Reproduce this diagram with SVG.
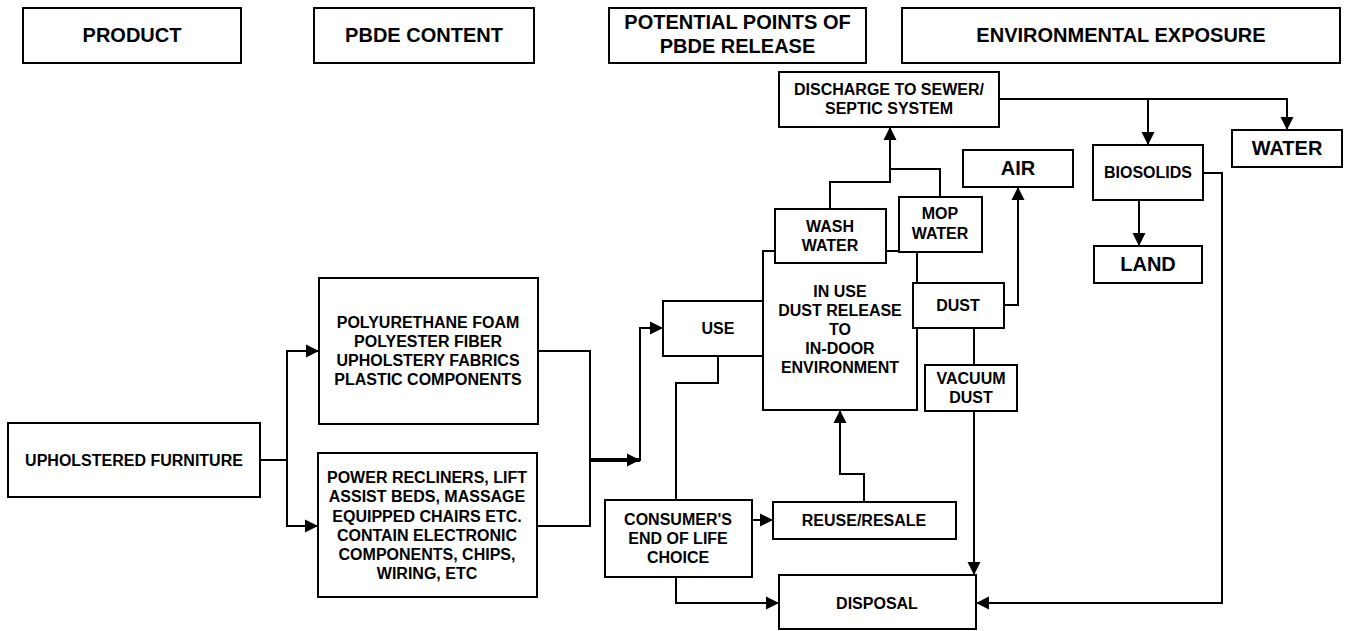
<svg xmlns="http://www.w3.org/2000/svg" width="1349" height="631" viewBox="0 0 1349 631">
<defs>
<style>
.box{fill:#fff;stroke:#000;stroke-width:2}
.c{fill:none;stroke:#000;stroke-width:2}
.thick{fill:none;stroke:#000;stroke-width:4}
text{font-family:"Liberation Sans",Arial,sans-serif;font-weight:bold;text-anchor:middle;fill:#000}
.t16{font-size:16px}
.t20{font-size:20px}
</style>
<marker id="ah" markerUnits="userSpaceOnUse" markerWidth="14" markerHeight="14" refX="13" refY="7" orient="auto">
<path d="M0,0.5 L13,7 L0,13.5 z" fill="#000"/>
</marker>
</defs>
<rect width="1349" height="631" fill="#fff"/>

<g id="connectors">
<path class="c" d="M260,460 H287"/>
<path class="c" d="M287,460 V351 H319" marker-end="url(#ah)"/>
<path class="c" d="M287,460 V526 H318" marker-end="url(#ah)"/>
<path class="c" d="M538,351 H590 V526 H537"/>
<path class="thick" d="M590,460 H640" marker-end="url(#ah)"/>
<path class="c" d="M640,461 V328 H663" marker-end="url(#ah)"/>
<path class="c" d="M718,356 V383 H676 V500"/>
<path class="c" d="M752,520 H773" marker-end="url(#ah)"/>
<path class="c" d="M864,502 V474 H840 V410" marker-end="url(#ah)"/>
<path class="c" d="M676,577 V603 H779" marker-end="url(#ah)"/>
<path class="c" d="M830,209 V182 H890 V127" marker-end="url(#ah)"/>
<path class="c" d="M940,197 V169 H890"/>
<path class="c" d="M1004,305 H1018 V187" marker-end="url(#ah)"/>
<path class="c" d="M974,328 V365"/>
<path class="c" d="M974,411 V575" marker-end="url(#ah)"/>
<path class="c" d="M999,99 H1287 V130" marker-end="url(#ah)"/>
<path class="c" d="M1148,99 V145" marker-end="url(#ah)"/>
<path class="c" d="M1139,200 V246" marker-end="url(#ah)"/>
<path class="c" d="M1203,173 H1222 V603 H976" marker-end="url(#ah)"/>
</g>

<g id="hdr-product"><rect class="box" x="23" y="8" width="218" height="55"/><text class="t20" x="132" y="42">PRODUCT</text></g>
<g id="hdr-pbde"><rect class="box" x="314" y="8" width="220" height="55"/><text class="t20" x="424" y="42">PBDE CONTENT</text></g>
<g id="hdr-release"><rect class="box" x="609" y="8" width="257" height="55"/><text class="t20" x="737.5" y="29">POTENTIAL POINTS OF</text><text class="t20" x="737.5" y="53">PBDE RELEASE</text></g>
<g id="hdr-env"><rect class="box" x="902" y="8" width="438" height="55"/><text class="t20" x="1121" y="42">ENVIRONMENTAL EXPOSURE</text></g>

<g id="upholstered"><rect class="box" x="8" y="423" width="252" height="74"/><text class="t16" x="134" y="466">UPHOLSTERED FURNITURE</text></g>
<g id="materials"><rect class="box" x="319" y="278" width="219" height="146"/>
<text class="t16" x="428" y="328">POLYURETHANE FOAM</text><text class="t16" x="428" y="347">POLYESTER FIBER</text><text class="t16" x="428" y="366">UPHOLSTERY FABRICS</text><text class="t16" x="428" y="385">PLASTIC COMPONENTS</text></g>
<g id="electronics"><rect class="box" x="318" y="453" width="219" height="144"/>
<text class="t16" x="427" y="483">POWER RECLINERS, LIFT</text><text class="t16" x="427" y="502">ASSIST BEDS, MASSAGE</text><text class="t16" x="427" y="522">EQUIPPED CHAIRS ETC.</text><text class="t16" x="427" y="541">CONTAIN ELECTRONIC</text><text class="t16" x="427" y="560">COMPONENTS, CHIPS,</text><text class="t16" x="427" y="579">WIRING, ETC</text></g>
<g id="use"><rect class="box" x="663" y="301" width="100" height="55"/><text class="t16" x="718" y="334">USE</text></g>
<g id="inuse"><rect class="box" x="763" y="251" width="154" height="159"/>
<text class="t16" x="840" y="297">IN USE</text><text class="t16" x="840" y="316">DUST RELEASE</text><text class="t16" x="840" y="335">TO</text><text class="t16" x="840" y="354">IN-DOOR</text><text class="t16" x="840" y="373">ENVIRONMENT</text></g>
<g id="washwater"><rect class="box" x="775" y="209" width="111" height="54"/><text class="t16" x="830" y="232">WASH</text><text class="t16" x="830" y="251">WATER</text></g>
<g id="mopwater"><rect class="box" x="899" y="197" width="83" height="55"/><text class="t16" x="940" y="219">MOP</text><text class="t16" x="940" y="239">WATER</text></g>
<g id="dust"><rect class="box" x="913" y="283" width="91" height="45"/><text class="t16" x="958" y="311">DUST</text></g>
<g id="vacuum"><rect class="box" x="925" y="365" width="92" height="46"/><text class="t16" x="971" y="384">VACUUM</text><text class="t16" x="971" y="403">DUST</text></g>
<g id="discharge"><rect class="box" x="779" y="72" width="220" height="55"/><text class="t16" x="889" y="95">DISCHARGE TO SEWER/</text><text class="t16" x="889" y="114">SEPTIC SYSTEM</text></g>
<g id="air"><rect class="box" x="963" y="150" width="110" height="37"/><text class="t20" x="1018" y="175">AIR</text></g>
<g id="biosolids"><rect class="box" x="1093" y="145" width="110" height="55"/><text class="t16" x="1148" y="178">BIOSOLIDS</text></g>
<g id="water"><rect class="box" x="1232" y="130" width="110" height="37"/><text class="t20" x="1287" y="155">WATER</text></g>
<g id="land"><rect class="box" x="1094" y="246" width="108" height="37"/><text class="t20" x="1148" y="271">LAND</text></g>
<g id="consumer"><rect class="box" x="605" y="500" width="147" height="77"/><text class="t16" x="678" y="525">CONSUMER'S</text><text class="t16" x="678" y="544">END OF LIFE</text><text class="t16" x="678" y="563">CHOICE</text></g>
<g id="reuse"><rect class="box" x="773" y="502" width="183" height="37"/><text class="t16" x="864" y="526">REUSE/RESALE</text></g>
<g id="disposal"><rect class="box" x="779" y="575" width="197" height="54"/><text class="t16" x="877" y="609">DISPOSAL</text></g>
</svg>
